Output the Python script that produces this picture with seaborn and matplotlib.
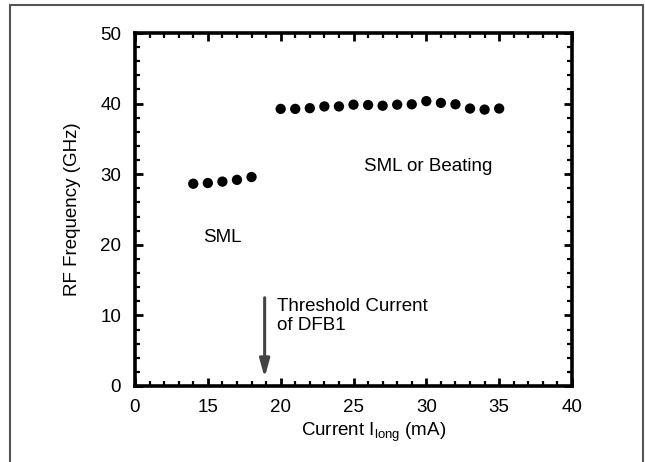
import matplotlib
matplotlib.use("Agg")
import matplotlib.pyplot as plt
from matplotlib.lines import Line2D
from matplotlib.ticker import MultipleLocator, FixedLocator
import seaborn as sns
import pandas as pd

# Self-mode-locking (SML) regime, below the DFB1 threshold
sml_current = [14, 15, 16, 17, 18]
sml_freq = [28.65, 28.75, 28.95, 29.2, 29.6]

# SML or beating regime, above the DFB1 threshold
beat_current = [20, 21, 22, 23, 24, 25, 26, 27, 28, 29, 30, 31, 32, 33, 34, 35]
beat_freq = [39.25, 39.25, 39.35, 39.6, 39.6, 39.85, 39.8, 39.7,
             39.85, 39.9, 40.35, 40.1, 39.9, 39.3, 39.15, 39.3]

# broken x axis: the first major tick stands for 0 mA
x_ticks = [10, 15, 20, 25, 30, 35, 40]
x_tick_labels = ["0", "15", "20", "25", "30", "35", "40"]
y_ticks = [0, 10, 20, 30, 40, 50]

threshold_current = 18.9

df = pd.DataFrame({
    "current": sml_current + beat_current,
    "freq": sml_freq + beat_freq,
})

sns.set_theme(style="ticks")
plt.rcParams["font.family"] = ["Liberation Sans", "DejaVu Sans"]
plt.rcParams["mathtext.fontset"] = "custom"
plt.rcParams["mathtext.rm"] = "Liberation Sans"
plt.rcParams["text.color"] = "black"
plt.rcParams["axes.labelcolor"] = "black"

FS = 13.5

fig = plt.figure(figsize=(6.45, 4.62), dpi=100)
ax = fig.add_axes([135 / 645, 1 - 386 / 462, 437 / 645, 353 / 462])

sns.scatterplot(data=df, x="current", y="freq", ax=ax, color="black",
                s=55, edgecolor="none", legend=False, zorder=3)

ax.set_xlim(10, 40)
ax.set_ylim(0, 50)
ax.xaxis.set_major_locator(FixedLocator(x_ticks))
ax.set_xticklabels(x_tick_labels)
ax.xaxis.set_minor_locator(MultipleLocator(1))
ax.yaxis.set_major_locator(FixedLocator(y_ticks))
ax.yaxis.set_minor_locator(MultipleLocator(2))

for side in ["left", "right", "top", "bottom"]:
    ax.spines[side].set_visible(True)
    ax.spines[side].set_linewidth(2.6)
    ax.spines[side].set_color("black")

ax.tick_params(which="both", direction="in", top=True, right=True,
               color="black", labelsize=FS, labelcolor="black")
ax.tick_params(which="major", length=6, width=2)
ax.tick_params(which="minor", length=3.5, width=1.6)
ax.tick_params(axis="x", which="major", pad=9)
ax.tick_params(axis="y", which="major", pad=10)

ax.set_xlabel(r"Current I$_\mathregular{long}$ (mA)", fontsize=FS)
ax.xaxis.set_label_coords(0.545, -0.098, transform=ax.transAxes)
ax.xaxis.label.set_verticalalignment("top")
ax.set_ylabel("RF Frequency (GHz)", fontsize=FS, labelpad=14)

ax.text(16, 21, "SML", fontsize=FS, ha="center", va="center")
ax.text(30.1, 31.1, "SML or Beating", fontsize=FS, ha="center", va="center")
ax.text(19.75, 12.4, "Threshold Current\nof DFB1", fontsize=FS,
        ha="left", va="top", linespacing=1.15)

ax.annotate("", xy=(threshold_current, 1.2), xytext=(threshold_current, 12.5),
            arrowprops=dict(arrowstyle="-|>,head_length=0.9,head_width=0.25",
                            color="#444444", lw=2.2, shrinkA=0, shrinkB=0))

# thin frame around the figure
frame_kw = dict(color="#555555", lw=1.5, transform=fig.transFigure)
xl, xr, yt = 10 / 645, 643 / 645, 1 - 5 / 462
fig.add_artist(Line2D([xl, xl], [0, yt], **frame_kw))
fig.add_artist(Line2D([xr, xr], [0, yt], **frame_kw))
fig.add_artist(Line2D([xl, xr], [yt, yt], **frame_kw))

fig.savefig("out.png", dpi=100)
